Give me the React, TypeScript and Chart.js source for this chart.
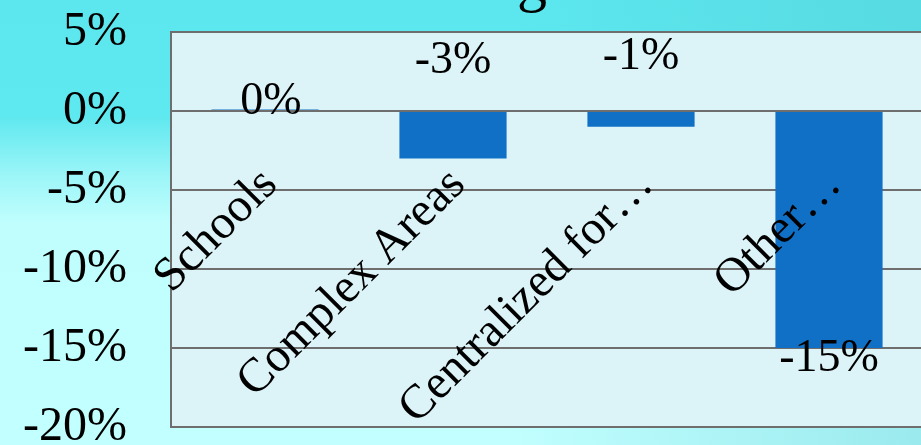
import React, { useEffect, useRef } from 'react';
import { Chart, registerables } from 'chart.js';

Chart.register(...registerables);

const categories = ['Schools', 'Complex Areas', 'Centralized for…', 'Other…'];
const changePct = [0.1, -3, -1, -15];
const valueLabels = ['0%', '-3%', '-1%', '-15%'];
const yMin = -20;
const yMax = 5;
const yStep = 5;

const FONT = '"Liberation Serif", "Times New Roman", serif';

export default function App() {
  const ref = useRef<HTMLCanvasElement>(null);

  useEffect(() => {
    document.body.style.margin = '0';
    const canvas = ref.current;
    if (!canvas) return;

    const plotBg = {
      id: 'plotBg',
      beforeDraw(chart: any) {
        const { ctx, chartArea } = chart;
        ctx.save();
        ctx.fillStyle = '#dcf4f8';
        ctx.fillRect(chartArea.left, chartArea.top, chartArea.right - chartArea.left, chartArea.bottom - chartArea.top);
        ctx.restore();
      },
    };

    const valueLabelPlugin = {
      id: 'valueLabels',
      afterDatasetsDraw(chart: any, _args: any, opts: any) {
        const { ctx } = chart;
        const meta = chart.getDatasetMeta(0);
        const y = chart.scales.y;
        ctx.save();
        ctx.font = `46px ${FONT}`;
        ctx.fillStyle = '#000';
        ctx.textAlign = 'center';
        ctx.textBaseline = 'middle';
        meta.data.forEach((bar: any, i: number) => {
          ctx.fillText(valueLabels[i], bar.x + opts.dx[i], y.getPixelForValue(opts.anchors[i]));
        });
        ctx.restore();
      },
    };

    const chart = new Chart(canvas, {
      type: 'bar',
      data: {
        labels: categories,
        datasets: [
          {
            data: changePct,
            backgroundColor: '#1070c6',
            borderWidth: 0,
            barPercentage: 0.57,
            categoryPercentage: 1,
          },
        ],
      },
      plugins: [plotBg, valueLabelPlugin],
      options: {
        responsive: false,
        animation: false,
        events: [],
        layout: { padding: { top: 32, bottom: 18, right: 7, left: 0 } },
        plugins: {
          legend: { display: false },
          tooltip: { enabled: false },
          title: { display: false },
          valueLabels: { anchors: [0.6, 3.2, 3.4, -15.7], dx: [6, 0, 0, 0] },
        } as any,
        scales: {
          x: {
            position: { y: 0 } as any,
            afterFit: (scale: any) => {
              scale.height = 0;
              scale.paddingLeft = 0;
              scale.paddingRight = 0;
              scale.paddingTop = 0;
              scale.paddingBottom = 0;
            },
            grid: { display: false },
            border: { display: false },
            ticks: {
              z: 1,
              autoSkip: false,
              minRotation: 45,
              maxRotation: 45,
              padding: 38,
              labelOffset: 5,
              color: '#000',
              font: { family: FONT, size: 48 },
            },
          },
          y: {
            min: yMin,
            max: yMax,
            afterFit: (scale: any) => {
              scale.width = 171;
              scale.paddingTop = 0;
              scale.paddingBottom = 0;
            },
            ticks: {
              stepSize: yStep,
              padding: 44,
              color: '#000',
              font: { family: FONT, size: 48 },
              callback: (v: any) => `${v}%`,
            },
            grid: { color: '#6e6e6e', lineWidth: 2, drawTicks: false },
            border: { display: true, color: '#6e6e6e', width: 2 },
          },
        },
      },
    });

    return () => chart.destroy();
  }, []);

  return (
    <div
      style={{
        position: 'relative',
        width: 921,
        height: 445,
        overflow: 'hidden',
        background:
          'linear-gradient(90deg, rgba(80,200,210,0) 55%, rgba(80,195,205,0.35) 100%), linear-gradient(180deg, #5ce7ee 0%, #5ee8ef 26%, #9ef6f8 40%, #c0fefe 50%, #c2ffff 100%)',
      }}
    >
      <div
        style={{
          position: 'absolute',
          left: 517,
          top: -50,
          fontFamily: FONT,
          fontSize: 60,
          lineHeight: '60px',
          color: '#000',
        }}
      >
        g
      </div>
      <canvas ref={ref} width={930} height={445} style={{ position: 'absolute', left: 0, top: 0 }} />
    </div>
  );
}
